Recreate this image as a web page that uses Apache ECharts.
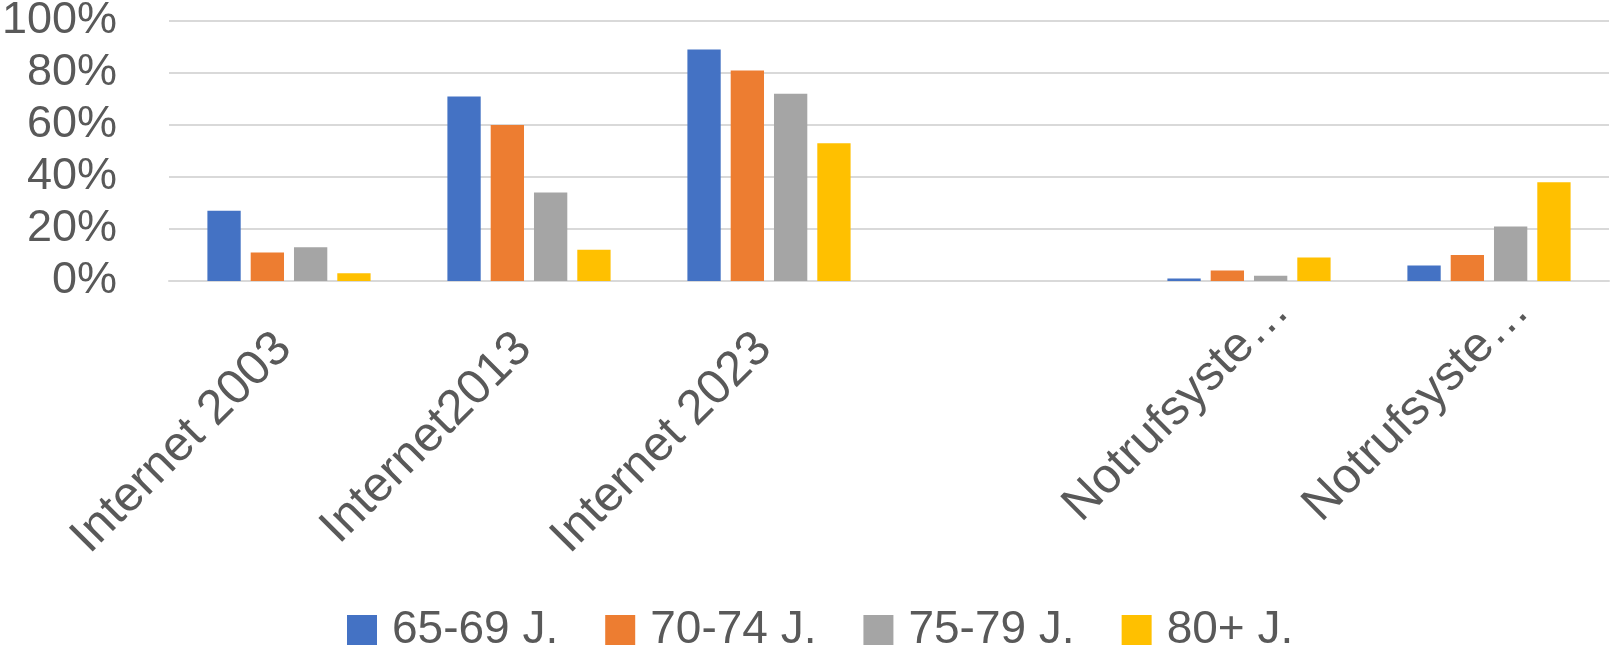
<!DOCTYPE html>
<html>
<head>
<meta charset="utf-8">
<script src="https://cdn.jsdelivr.net/npm/echarts@6/dist/echarts.min.js"></script>
<style>html,body{margin:0;padding:0;background:#fff;}#c{width:1610px;height:652px;}</style>
</head>
<body>
<div id="c"></div>
<script>
var categories = ['Internet 2003', 'Internet2013', 'Internet 2023', '', 'Notrufsyste\u2026', 'Notrufsyste\u2026'];
var seriesNames = ['65-69 J.', '70-74 J.', '75-79 J.', '80+ J.'];
var s6569 = [27, 71, 89, null, 1, 6];
var s7074 = [11, 60, 81, null, 4, 10];
var s7579 = [13, 34, 72, null, 2, 21];
var s80 = [3, 12, 53, null, 9, 38];
var yTicks = [0, 20, 40, 60, 80, 100];

var colors = ['#4472C4', '#ED7D31', '#A5A5A5', '#FFC000'];
var FONT = 'Liberation Sans';
var TXT = '#595959';

var catData = categories.map(function (c) {
  var pad = c.indexOf('Notruf') === 0 ? [0, -46, 0, 0] : [0, 7, 0, 0];
  return { value: c, textStyle: { padding: pad } };
});

var values = [s6569, s7074, s7579, s80];
var chart = echarts.init(document.getElementById('c'), null, { renderer: 'canvas' });
chart.setOption({
  animation: false,
  color: colors,
  grid: { left: 169, right: 1, top: 21, bottom: 371, outerBoundsMode: 'none', containLabel: false },
  legend: {
    data: seriesNames,
    left: 342,
    top: 602,
    icon: 'rect',
    itemWidth: 30,
    itemHeight: 30,
    itemGap: 47,
    textStyle: { fontFamily: FONT, fontSize: 46, color: TXT, padding: [0, 0, 0, 10] }
  },
  xAxis: {
    type: 'category',
    data: catData,
    axisLine: { show: true, lineStyle: { color: '#d9d9d9', width: 2 } },
    axisTick: { show: false },
    axisLabel: { interval: 0, rotate: 45, margin: 55, fontFamily: FONT, fontSize: 49, color: TXT, hideOverlap: false }
  },
  yAxis: {
    type: 'value',
    min: yTicks[0],
    max: yTicks[yTicks.length - 1],
    interval: 20,
    axisLine: { show: false },
    axisTick: { show: false },
    splitLine: { lineStyle: { color: '#d9d9d9', width: 2 } },
    axisLabel: { margin: 52, fontFamily: FONT, fontSize: 45, color: TXT, formatter: '{value}%' }
  },
  series: seriesNames.map(function (n, i) {
    return {
      name: n,
      type: 'bar',
      data: values[i],
      barGap: '30%',
      barCategoryGap: '32%'
    };
  })
});
</script>
</body>
</html>
